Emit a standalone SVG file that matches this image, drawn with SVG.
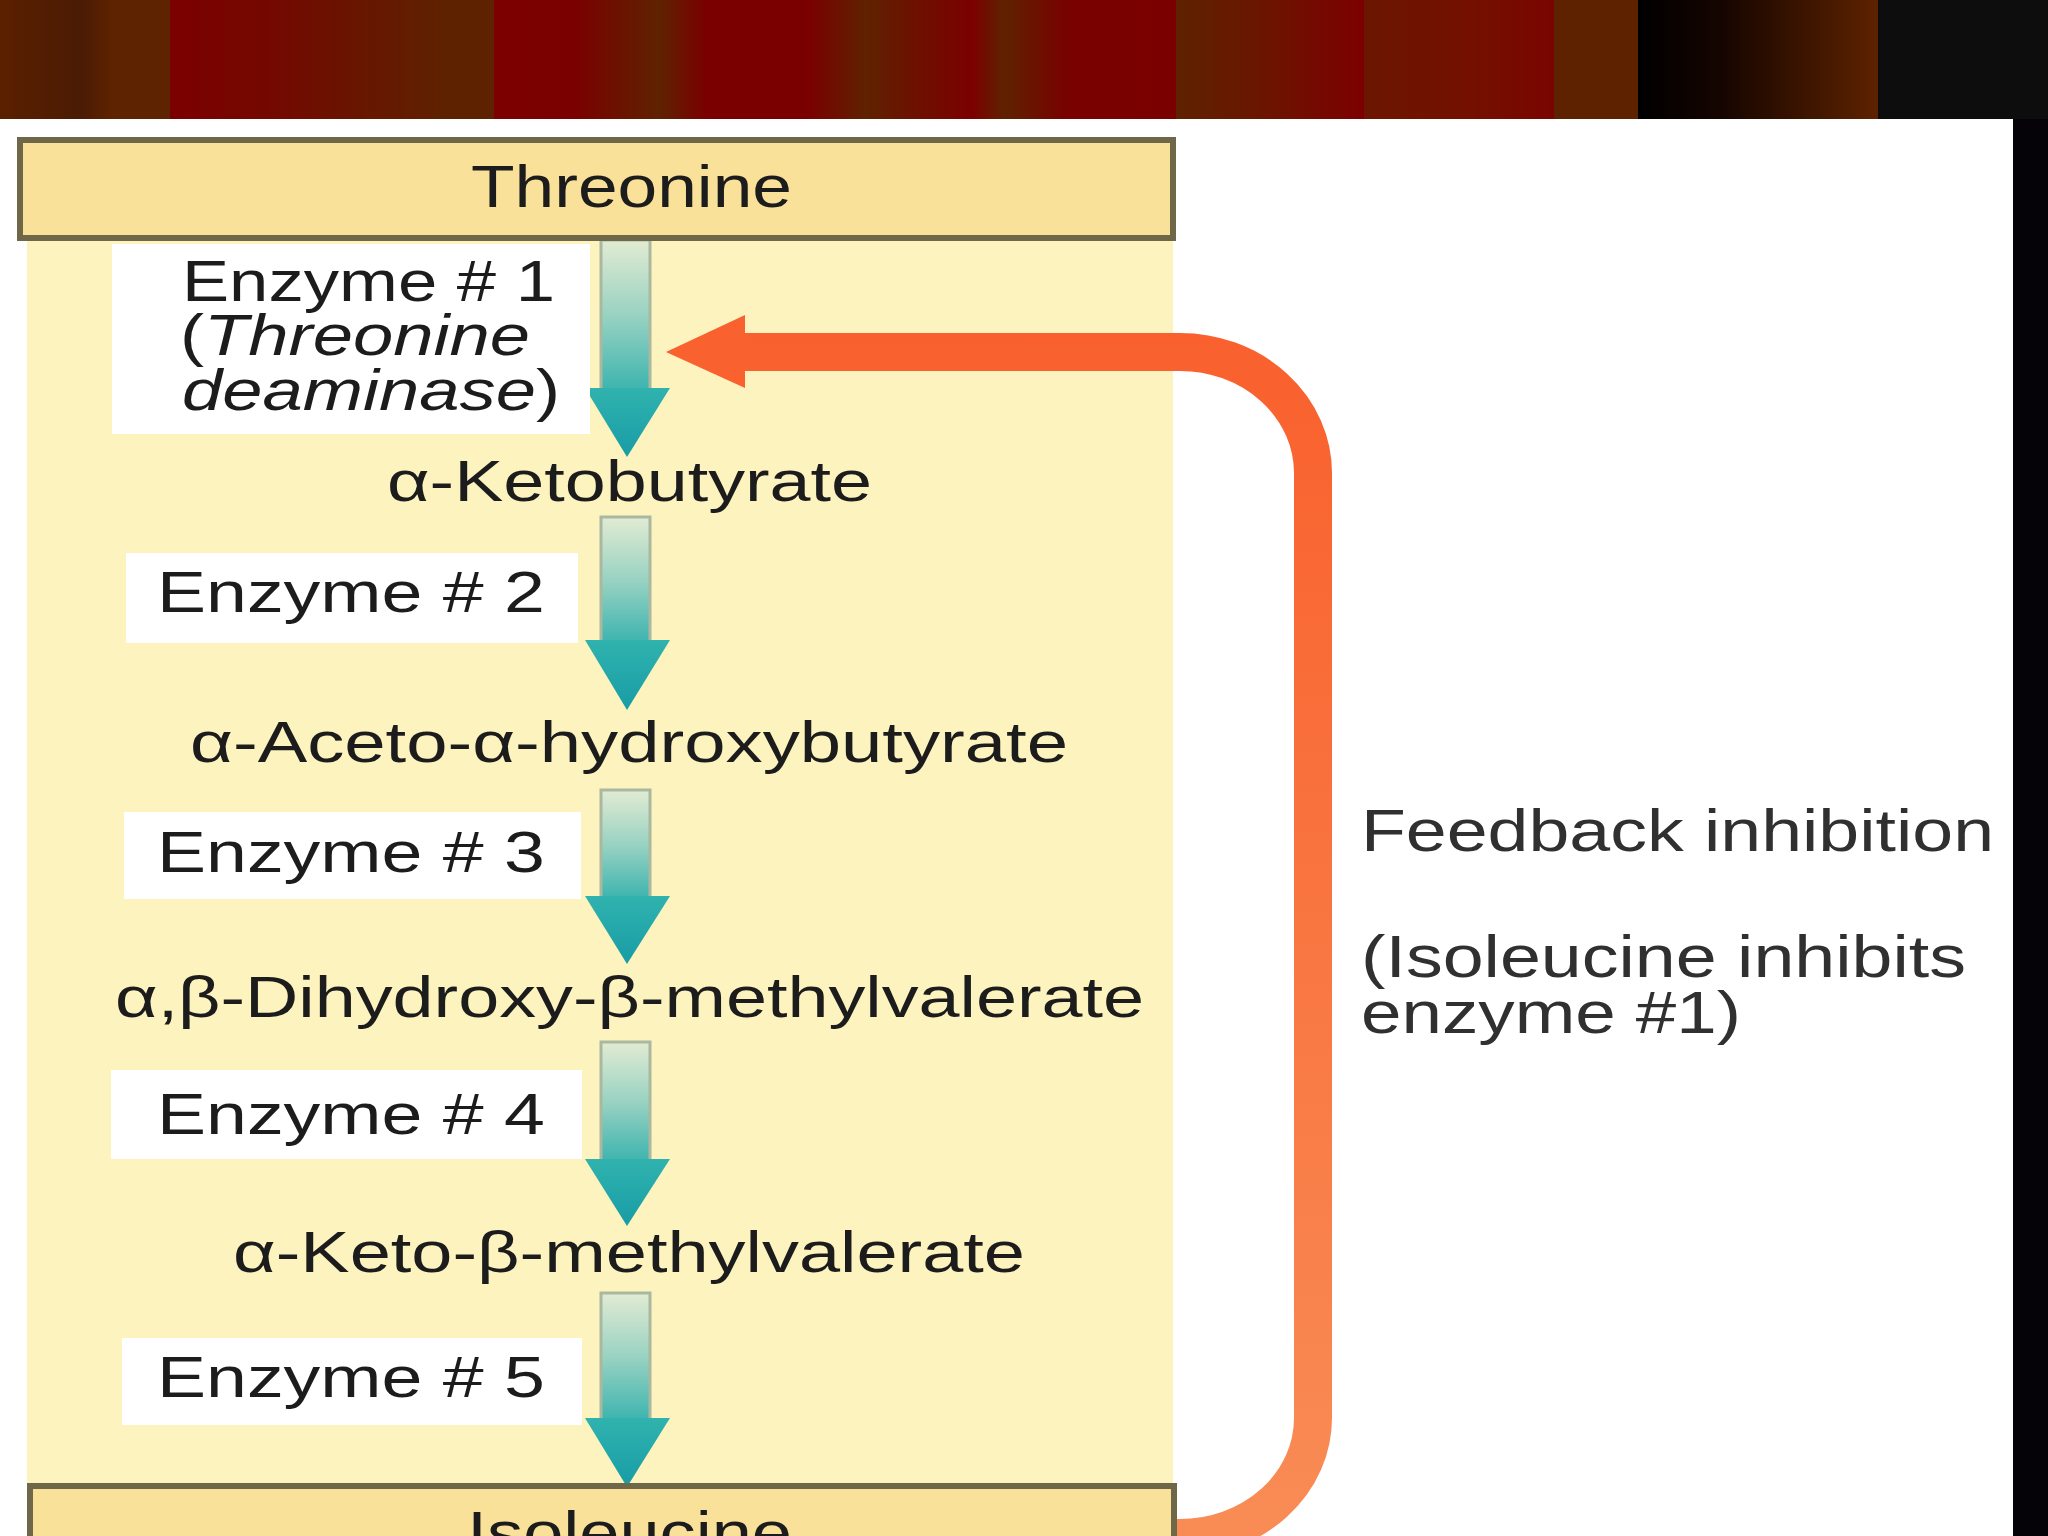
<svg xmlns="http://www.w3.org/2000/svg" width="2048" height="1536" viewBox="0 0 2048 1536">
<defs>
<style>
.t{font-family:"Liberation Sans",Arial,Helvetica,sans-serif;font-size:58px;fill:#1c1c1c}
.big{font-size:60px}
.fb{font-family:"Liberation Sans",Arial,Helvetica,sans-serif;font-size:60px;fill:#303030}
.box{fill:#fae19a;stroke:#6e6848;stroke-width:6}
.lab{fill:#ffffff}
.shaft{fill:url(#shaftGrad);stroke:#a9b89e;stroke-width:3}
.head{fill:url(#headGrad)}
.it{font-style:italic}
</style>
<linearGradient id="banner" x1="0" y1="0" x2="1" y2="0">
<stop offset="0" stop-color="#5a2000"/>
<stop offset="0.04" stop-color="#4b1b04"/>
<stop offset="0.055" stop-color="#5e2300"/>
<stop offset="0.083" stop-color="#5e2300"/>
<stop offset="0.083" stop-color="#7b0000"/>
<stop offset="0.13" stop-color="#740800"/>
<stop offset="0.217" stop-color="#5e2200"/>
<stop offset="0.241" stop-color="#5e2200"/>
<stop offset="0.241" stop-color="#7c0000"/>
<stop offset="0.28" stop-color="#7a0000"/>
<stop offset="0.322" stop-color="#5f2200"/>
<stop offset="0.345" stop-color="#7a0000"/>
<stop offset="0.395" stop-color="#7a0000"/>
<stop offset="0.423" stop-color="#5f2200"/>
<stop offset="0.445" stop-color="#6c1200"/>
<stop offset="0.475" stop-color="#7b0000"/>
<stop offset="0.49" stop-color="#5f2200"/>
<stop offset="0.52" stop-color="#780200"/>
<stop offset="0.574" stop-color="#7a0000"/>
<stop offset="0.574" stop-color="#5e2200"/>
<stop offset="0.62" stop-color="#6c1400"/>
<stop offset="0.666" stop-color="#7c0000"/>
<stop offset="0.666" stop-color="#6b1600"/>
<stop offset="0.72" stop-color="#741000"/>
<stop offset="0.759" stop-color="#7a0500"/>
<stop offset="0.759" stop-color="#5e2200"/>
<stop offset="0.80" stop-color="#5e2200"/>
<stop offset="0.80" stop-color="#000000"/>
<stop offset="0.84" stop-color="#150500"/>
<stop offset="0.917" stop-color="#5e2200"/>
<stop offset="0.917" stop-color="#0d0d0d"/>
<stop offset="1" stop-color="#0d0d0d"/>
</linearGradient>
<linearGradient id="shaftGrad" x1="0" y1="0" x2="0" y2="1">
<stop offset="0" stop-color="#e2ebd3"/>
<stop offset="0.5" stop-color="#98d2c2"/>
<stop offset="1" stop-color="#3ab3ae"/>
</linearGradient>
<linearGradient id="headGrad" x1="0" y1="0" x2="0" y2="1">
<stop offset="0" stop-color="#30b3ae"/>
<stop offset="1" stop-color="#189ca6"/>
</linearGradient>
<linearGradient id="orangeGrad" gradientUnits="userSpaceOnUse" x1="0" y1="330" x2="0" y2="1540">
<stop offset="0" stop-color="#f9602d"/>
<stop offset="1" stop-color="#f98c55"/>
</linearGradient>
</defs>

<rect x="0" y="0" width="2048" height="1536" fill="#ffffff"/>
<rect x="0" y="0" width="2048" height="119" fill="url(#banner)"/>
<rect x="2013" y="119" width="35" height="1417" fill="#050308"/>

<g id="panel">
<rect x="27" y="240" width="1146" height="1250" fill="#fdf3bf"/>
</g>

<g id="connectors">
<g id="arrow1"><rect class="shaft" x="601" y="240" width="49" height="152"/><polygon class="head" points="585,388 670,388 627,457"/></g>
<g id="arrow2"><rect class="shaft" x="601" y="517" width="49" height="127"/><polygon class="head" points="585,640 670,640 627,710"/></g>
<g id="arrow3"><rect class="shaft" x="601" y="790" width="49" height="110"/><polygon class="head" points="585,896 670,896 627,964"/></g>
<g id="arrow4"><rect class="shaft" x="601" y="1042" width="49" height="121"/><polygon class="head" points="585,1159 670,1159 627,1226"/></g>
<g id="arrow5"><rect class="shaft" x="601" y="1293" width="49" height="129"/><polygon class="head" points="585,1418 670,1418 627,1487"/></g>
<g id="feedback-arrow">
<path d="M 1176 1538 H 1180 A 133 120 0 0 0 1313 1418 V 473 A 133 121 0 0 0 1180 352 H 740" fill="none" stroke="url(#orangeGrad)" stroke-width="38"/>
<polygon points="666,352 745,315 745,388" fill="#f9612e"/>
</g>
</g>

<g id="threonine">
<rect class="box" x="20" y="140" width="1153" height="98"/>
<text class="t big" x="471" y="207" textLength="321" lengthAdjust="spacingAndGlyphs">Threonine</text>
</g>

<g id="enzyme1">
<rect class="lab" x="112" y="244" width="478" height="190"/>
<text class="t" x="182" y="301" textLength="373" lengthAdjust="spacingAndGlyphs">Enzyme # 1</text>
<text class="t" x="180" y="355" textLength="350" lengthAdjust="spacingAndGlyphs">(<tspan class="it">Threonine</tspan></text>
<text class="t" x="182" y="410" textLength="378" lengthAdjust="spacingAndGlyphs"><tspan class="it">deaminase</tspan>)</text>
</g>

<g id="ketobutyrate">
<text class="t" x="387" y="501" textLength="485" lengthAdjust="spacingAndGlyphs">α-Ketobutyrate</text>
</g>

<g id="enzyme2">
<rect class="lab" x="126" y="553" width="452" height="90"/>
<text class="t" x="157" y="612" textLength="388" lengthAdjust="spacingAndGlyphs">Enzyme # 2</text>
</g>

<g id="acetohydroxybutyrate">
<text class="t" x="190" y="762" textLength="878" lengthAdjust="spacingAndGlyphs">α-Aceto-α-hydroxybutyrate</text>
</g>

<g id="enzyme3">
<rect class="lab" x="124" y="812" width="457" height="87"/>
<text class="t" x="157" y="872" textLength="388" lengthAdjust="spacingAndGlyphs">Enzyme # 3</text>
</g>

<g id="dihydroxymethylvalerate">
<text class="t" x="115" y="1017" textLength="1029" lengthAdjust="spacingAndGlyphs">α,β-Dihydroxy-β-methylvalerate</text>
</g>

<g id="enzyme4">
<rect class="lab" x="111" y="1070" width="471" height="89"/>
<text class="t" x="157" y="1134" textLength="388" lengthAdjust="spacingAndGlyphs">Enzyme # 4</text>
</g>

<g id="ketomethylvalerate">
<text class="t" x="233" y="1272" textLength="792" lengthAdjust="spacingAndGlyphs">α-Keto-β-methylvalerate</text>
</g>

<g id="enzyme5">
<rect class="lab" x="122" y="1338" width="460" height="87"/>
<text class="t" x="157" y="1397" textLength="388" lengthAdjust="spacingAndGlyphs">Enzyme # 5</text>
</g>

<g id="isoleucine">
<rect class="box" x="30" y="1486" width="1144" height="90"/>
<text class="t big" x="467" y="1553" textLength="325" lengthAdjust="spacingAndGlyphs">Isoleucine</text>
</g>

<g id="feedback-label">
<text class="fb" x="1361" y="851" textLength="633" lengthAdjust="spacingAndGlyphs">Feedback inhibition</text>
<text class="fb" x="1361" y="977" textLength="605" lengthAdjust="spacingAndGlyphs">(Isoleucine inhibits</text>
<text class="fb" x="1361" y="1033" textLength="380" lengthAdjust="spacingAndGlyphs">enzyme #1)</text>
</g>
</svg>
